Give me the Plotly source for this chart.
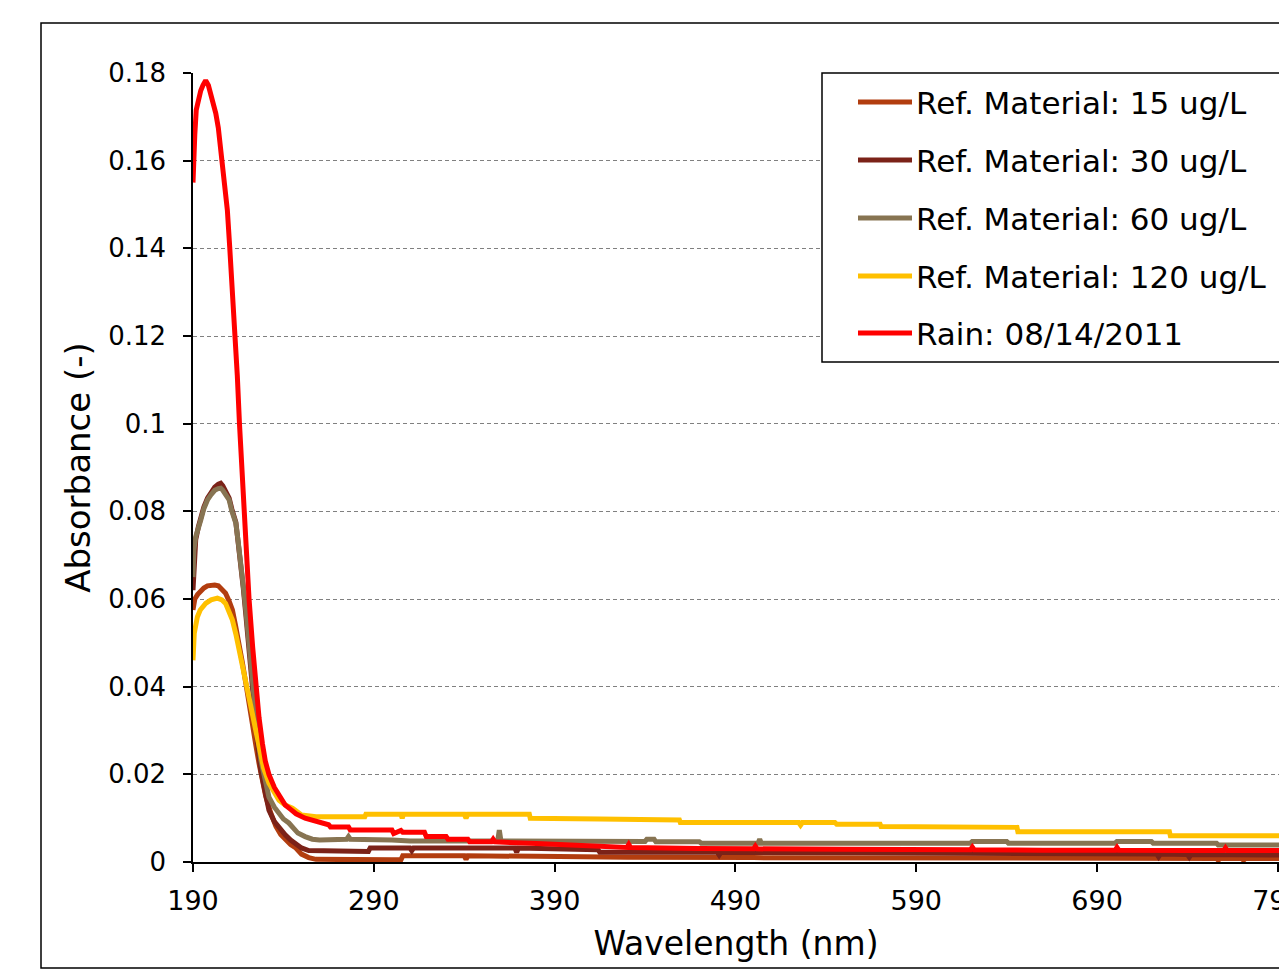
import plotly.graph_objects as go

# ---------------- data ----------------
wl_15 = [190, 191, 192.5, 194, 196, 198, 200, 202, 204, 206,
         208, 210, 211.8, 213.5, 215.5, 217.3, 219.2, 221, 222.8, 224.7,
         226.5, 228.5, 230.2, 233, 235.8, 238.5, 241.3, 244, 246.9, 250,
         254, 258, 300, 305, 306, 340, 341, 342, 380, 400,
         430, 500, 600, 700, 750, 756, 757, 758, 770, 771,
         772, 795]
abs_15 = [0.0575, 0.060, 0.061, 0.0618, 0.0625, 0.063, 0.0632, 0.0632, 0.063, 0.0622,
          0.0613, 0.0595, 0.0575, 0.054, 0.050, 0.0455, 0.0408, 0.0358, 0.0312, 0.0268,
          0.0225, 0.0185, 0.015, 0.0112, 0.0082, 0.0063, 0.005, 0.004, 0.0032, 0.0018,
          0.001, 0.0006, 0.0005, 0.0005, 0.0014, 0.0014, 0.0006, 0.0014, 0.0013, 0.0012,
          0.0011, 0.001, 0.001, 0.0009, 0.0008, 0.0008, 0.0004, 0.0008, 0.0008, 0.0004,
          0.0008, 0.0008]

wl_30 = [190, 190.5, 191.5, 193, 194.3, 196, 198, 200, 202, 204,
         205.3, 206.5, 208, 210, 211.5, 213.7, 215, 216.4, 217.8, 219.2,
         220.6, 222, 223.4, 224.7, 226, 227.5, 230, 232, 235, 238,
         241, 244, 247, 250, 254, 287, 288, 310, 311, 312,
         368, 369, 370, 400, 414, 415, 480, 481, 482, 560,
         600, 650, 723, 724, 725, 740, 741, 742, 770, 795]
abs_30 = [0.062, 0.068, 0.0735, 0.0765, 0.0785, 0.081, 0.083, 0.0845, 0.0855, 0.0862,
          0.0864, 0.0858, 0.0845, 0.083, 0.0805, 0.0775, 0.0728, 0.0685, 0.0625, 0.0565,
          0.0498, 0.043, 0.0365, 0.031, 0.0258, 0.0208, 0.0152, 0.0118, 0.0092, 0.0076,
          0.0062, 0.005, 0.004, 0.0032, 0.0026, 0.0024, 0.0032, 0.0032, 0.0026, 0.0032,
          0.0032, 0.0022, 0.0032, 0.003, 0.0028, 0.0022, 0.0022, 0.0016, 0.0022, 0.0021,
          0.002, 0.0019, 0.0018, 0.0012, 0.0018, 0.0017, 0.0011, 0.0017, 0.0016, 0.0016]

wl_60 = [190, 190.5, 191.5, 193, 194.3, 196, 198, 200, 202, 204,
         205.3, 206.5, 208, 210, 211.5, 213.7, 215, 216.4, 217.8, 219.2,
         220.6, 222, 223.4, 224.7, 226, 227.5, 230, 232, 235, 237.6,
         240, 243, 246, 248, 252, 256, 260, 275, 276, 277,
         300, 310, 358.5, 359.4, 360.3, 400, 440, 441, 445, 446,
         470, 471, 502.5, 503.4, 504.3, 560, 620, 621, 640, 641,
         700, 701, 720, 721, 756, 757, 795]
abs_60 = [0.065, 0.0712, 0.0742, 0.076, 0.078, 0.0806, 0.0826, 0.0838, 0.0848, 0.0852,
          0.0853, 0.0848, 0.0838, 0.0826, 0.080, 0.0773, 0.073, 0.0689, 0.063, 0.0575,
          0.051, 0.0445, 0.0385, 0.0331, 0.028, 0.0233, 0.018, 0.0148, 0.0125, 0.0112,
          0.0098, 0.0089, 0.0075, 0.0066, 0.0058, 0.0052, 0.005, 0.0052, 0.0058, 0.0052,
          0.005, 0.0048, 0.0048, 0.0073, 0.0048, 0.0047, 0.0047, 0.0052, 0.0052, 0.0046,
          0.0046, 0.0043, 0.0043, 0.0052, 0.0043, 0.0043, 0.0043, 0.0047, 0.0047, 0.0043,
          0.0043, 0.0047, 0.0047, 0.0043, 0.0043, 0.0039, 0.0039]

wl_120 = [190, 190.3, 190.7, 192.4, 194, 197, 200, 203.5, 206, 208,
          210, 211.8, 213.7, 215.5, 217.3, 219.2, 221, 222.8, 224.7, 226.5,
          229, 232, 235, 237.6, 241, 245, 250, 258, 285, 285.6,
          305, 305.7, 306.4, 340, 341, 342, 376, 376.5, 415, 459,
          459.5, 525, 526, 527, 545, 546, 570, 570.5, 645.7, 646.2,
          730, 730.5, 795]
abs_120 = [0.046, 0.050, 0.0522, 0.0559, 0.0575, 0.059, 0.0598, 0.0602, 0.0598, 0.059,
           0.0572, 0.0552, 0.052, 0.0483, 0.0446, 0.0408, 0.037, 0.0331, 0.0293, 0.0256,
           0.0215, 0.018, 0.0158, 0.0141, 0.013, 0.0123, 0.0107, 0.0103, 0.0103, 0.0109,
           0.0109, 0.0100, 0.0109, 0.0109, 0.0100, 0.0109, 0.0109, 0.0100, 0.0098, 0.0096,
           0.0090, 0.0090, 0.0084, 0.0090, 0.0090, 0.0086, 0.0086, 0.0081, 0.0079, 0.0069,
           0.0069, 0.0060, 0.0060]

wl_rain = [190, 190.3, 190.6, 191, 191.8, 193, 194.3, 195.5, 197, 198.5,
           199.8, 201.2, 202.6, 204, 205.3, 207.2, 209, 210.3, 211.8, 213.3,
           214.5, 215.7, 217, 218.3, 219.7, 221, 223, 224.9, 226.5, 228.4,
           230, 232, 235, 238, 241, 244, 247, 252, 256, 262,
           265, 266, 276, 277, 300, 301, 305, 306, 318, 319,
           330, 331, 342, 343, 355, 356, 357, 380, 400, 420,
           430, 431, 432, 470, 500, 501, 502, 550, 600, 620,
           621, 622, 660, 700, 701, 702, 740, 760, 761, 762,
           795]
abs_rain = [0.155, 0.160, 0.164, 0.166, 0.1716, 0.174, 0.176, 0.1772, 0.1783, 0.1772,
            0.1754, 0.1732, 0.1708, 0.1675, 0.163, 0.1562, 0.1487, 0.1403, 0.131, 0.121,
            0.111, 0.100, 0.089, 0.078, 0.068, 0.060, 0.049, 0.040, 0.033, 0.027,
            0.023, 0.020, 0.017, 0.015, 0.013, 0.012, 0.011, 0.010, 0.0095, 0.009,
            0.0085, 0.008, 0.008, 0.0073, 0.0073, 0.0065, 0.0072, 0.0068, 0.0068, 0.0058,
            0.0058, 0.0052, 0.0052, 0.0046, 0.0046, 0.0052, 0.0046, 0.0042, 0.0038, 0.0033,
            0.0033, 0.0040, 0.0033, 0.0031, 0.0030, 0.0036, 0.0030, 0.0029, 0.0028, 0.0028,
            0.0034, 0.0028, 0.0027, 0.0027, 0.0033, 0.0027, 0.0026, 0.0026, 0.0032, 0.0026,
            0.0026]

series_names = ["Ref. Material: 15 ug/L", "Ref. Material: 30 ug/L",
                "Ref. Material: 60 ug/L", "Ref. Material: 120 ug/L",
                "Rain: 08/14/2011"]
series_colors = ["#B23D0F", "#7B2218", "#877452", "#FFC000", "#FF0000"]
series_x = [wl_15, wl_30, wl_60, wl_120, wl_rain]
series_y = [abs_15, abs_30, abs_60, abs_120, abs_rain]

y_tickvals = [0, 0.02, 0.04, 0.06, 0.08, 0.1, 0.12, 0.14, 0.16, 0.18]
y_ticktext = ["0", "0.02", "0.04", "0.06", "0.08", "0.1", "0.12", "0.14", "0.16", "0.18"]
x_tickvals = [190, 290, 390, 490, 590, 690, 790]

# ---------------- figure ----------------
W, H = 1279, 970
PL, PR, PT, PB = 193, 1279, 73, 862   # plot area in page pixels
ML, MR, MT, MB = PL, W - PR, PT, H - PB
FONT = "DejaVu Sans"
LW = 5

fig = go.Figure()
for name, col, xs, ys in zip(series_names, series_colors, series_x, series_y):
    fig.add_trace(go.Scatter(x=xs, y=ys, mode="lines", name=name,
                             line=dict(color=col, width=LW), showlegend=False))

fig.update_layout(
    width=W, height=H, template="none",
    margin=dict(l=ML, r=MR, t=MT, b=MB, autoexpand=False),
    paper_bgcolor="white", plot_bgcolor="white",
    font=dict(family=FONT, color="black"),
    showlegend=False,
)
fig.update_xaxes(
    range=[190, 790.6], tickvals=x_tickvals, ticks="outside", ticklen=8,
    tickwidth=1.5, tickcolor="black", showline=True, linecolor="black",
    linewidth=1.5, showgrid=False, zeroline=False, automargin=False,
    ticklabelstandoff=6, ticklabeloverflow="allow",
    tickfont=dict(family=FONT, size=27, color="black"),
    title=dict(text="Wavelength (nm)", font=dict(family=FONT, size=33, color="black"),
               standoff=17),
)
fig.update_yaxes(
    range=[0, 0.18], tickvals=y_tickvals, ticktext=y_ticktext, ticks="outside",
    ticklen=8, tickwidth=1.5, tickcolor="black", showline=True, linecolor="black",
    linewidth=1.5, showgrid=True, gridcolor="#808080", gridwidth=1.2,
    griddash="4px,3px", zeroline=False, automargin=False, ticklabelstandoff=12,
    tickfont=dict(family=FONT, size=26, color="black"),
    title=dict(text="Absorbance (-)", font=dict(family=FONT, size=34, color="black"),
               standoff=7),
)

PW = PR - PL
PH = PB - PT


def px_x(px):
    return (px - PL) / PW


def px_y(py):
    return (PB - py) / PH


# outer chart border (right side lies beyond the picture)
fig.add_shape(type="rect", xref="paper", yref="paper",
              x0=px_x(41), x1=px_x(1320), y0=px_y(968), y1=px_y(23),
              line=dict(color="black", width=1.5), fillcolor="rgba(0,0,0,0)")

# legend box
fig.add_shape(type="rect", xref="paper", yref="paper",
              x0=px_x(822), x1=px_x(1320), y0=px_y(362), y1=px_y(73),
              line=dict(color="black", width=1.5), fillcolor="white")
leg_y = [102, 160, 218, 276, 333]
for name, col, ly in zip(series_names, series_colors, leg_y):
    fig.add_shape(type="line", xref="paper", yref="paper",
                  x0=px_x(858), x1=px_x(912), y0=px_y(ly), y1=px_y(ly),
                  line=dict(color=col, width=LW))
    fig.add_annotation(xref="paper", yref="paper", x=px_x(914), y=px_y(ly + 1),
                       text=name, showarrow=False, xanchor="left", yanchor="middle",
                       font=dict(family=FONT, size=31, color="black"))

fig.write_html("out.html", config={"displayModeBar": False},
               post_script="document.body.style.margin='0px';"
                           "document.body.style.overflow='hidden';")
